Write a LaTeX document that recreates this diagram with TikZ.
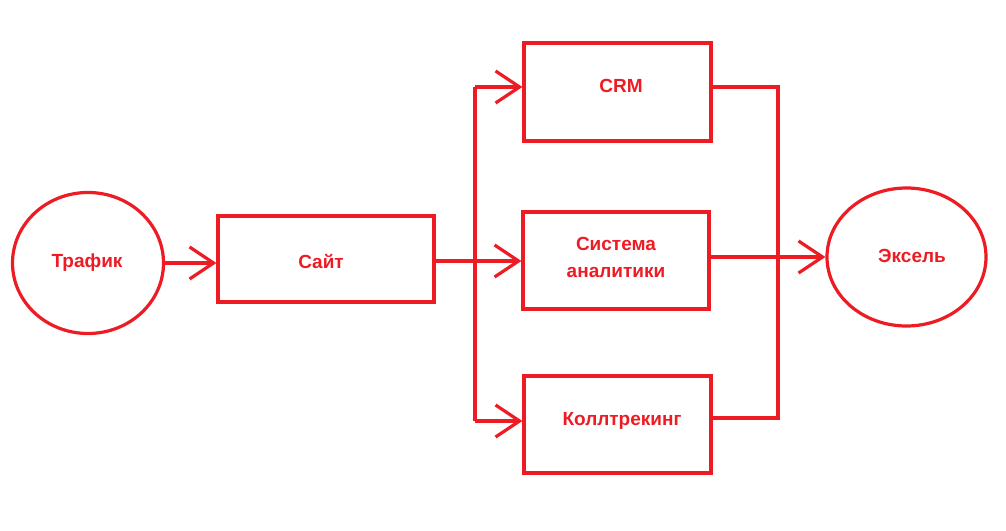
\documentclass[tikz,border=0pt]{standalone}
\usepackage{fontspec}
\setmainfont{Liberation Sans}
\usetikzlibrary{shapes.geometric}
\usetikzlibrary{arrows.meta}
\usetikzlibrary{positioning}
\definecolor{paintred}{RGB}{237,28,36}
\tikzset{
	blok/.style={draw=paintred, line width=3.2pt, inner sep=0pt, align=center},
	oval/.style={blok, ellipse},
	lbl/.style={text=paintred, align=center, font=\fontsize{19}{27}\selectfont\bfseries},
	lin/.style={draw=paintred, line width=3.2pt},
	arr/.style={lin, -{Straight Barb[length=24pt,width=32pt,line width=3.2pt]}}
}
\begin{document}
\begin{tikzpicture}[x=1pt,y=-1pt]
	\useasboundingbox (0,0) rectangle (1006,530);
	\node[oval, minimum width=151pt, minimum height=141pt] (traf) at (88,263){};%trafik
	\node[lbl] at (87,263){Трафик};
	\node[blok, minimum width=216pt, minimum height=86pt] (sajt) at (326,259){};%sajt
	\node[lbl] at (321,262){Сайт};
	\node[blok, minimum width=187pt, minimum height=98pt] (crm) at (617.5,92){};%crm
	\node[lbl] at (621,86){CRM};
	\node[blok, minimum width=186pt, minimum height=97pt] (sist) at (616,260.5){};%sistema
	\node[lbl] at (616,257){Система\\аналитики};
	\node[blok, minimum width=187pt, minimum height=97pt] (koll) at (617.5,424.5){};%kolltreking
	\node[lbl] at (622,421){Коллтрекинг};
	\node[oval, minimum width=159pt, minimum height=138pt] (eks) at (906.5,257){};%eksel
	\node[lbl] at (912,256){Эксель};
	\coordinate (jtop) at (475,87);
	\coordinate (jmid) at (475,261);
	\coordinate (jbot) at (475,421);
	\coordinate (rtop) at (778,87);
	\coordinate (rbot) at (778,418);
	\draw[arr] (traf.east) -- (traf.east -| sajt.west);
	\draw[lin] (sajt.east |- jmid) -- (jmid);
	\draw[lin] (jtop) -- (jbot);
	\draw[arr] (jtop) -- (jtop -| crm.west);
	\draw[arr] (jmid) -- (jmid -| sist.west);
	\draw[arr] (jbot) -- (jbot -| koll.west);
	\draw[lin] (crm.east |- rtop) -- (rtop) -- (rbot) -- (rbot -| koll.east);
	\draw[arr] (eks.west -| sist.east) -- (eks.west);
\end{tikzpicture}
\end{document}
